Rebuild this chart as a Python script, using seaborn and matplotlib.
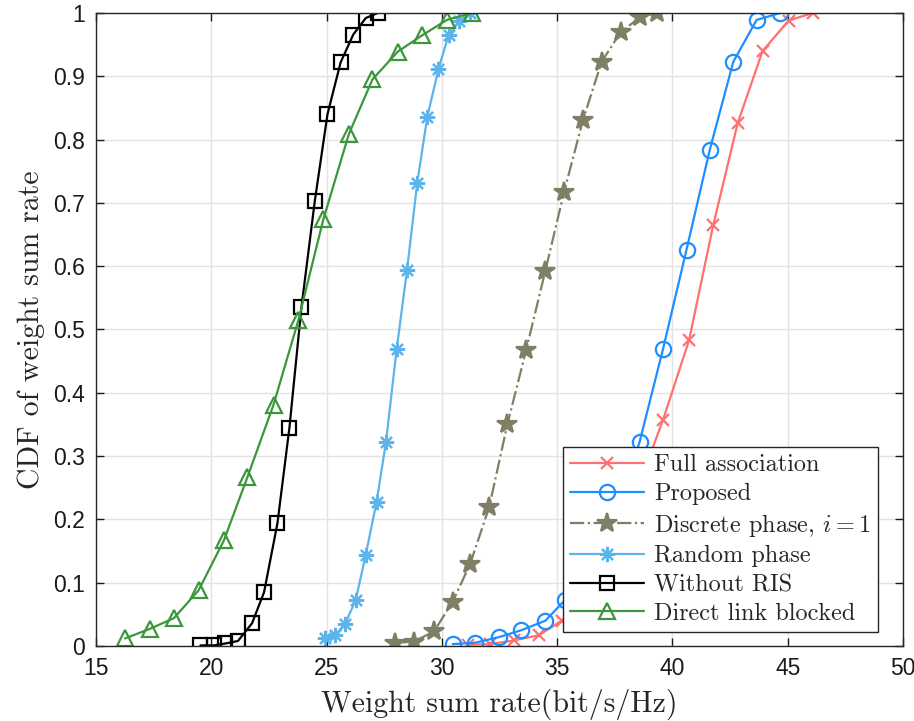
import matplotlib
matplotlib.use("Agg")
import matplotlib.pyplot as plt
import seaborn as sns

# values
full_x = [31.15, 32.1, 33.15, 34.2, 35.2, 36.3, 37.4, 38.5, 39.59, 40.72, 41.77, 42.83, 43.91, 45.04, 46.09]
full_y = [0.002, 0.003, 0.009, 0.017, 0.04, 0.09, 0.16, 0.25, 0.357, 0.483, 0.665, 0.826, 0.94, 0.988, 1.0]

prop_x = [30.47, 31.42, 32.47, 33.45, 34.49, 35.35, 36.5, 37.55, 38.58, 39.59, 40.61, 41.62, 42.64, 43.65, 44.67]
prop_y = [0.003, 0.005, 0.014, 0.025, 0.04, 0.073, 0.13, 0.21, 0.323, 0.469, 0.626, 0.784, 0.923, 0.989, 1.0]

disc_x = [27.98, 28.78, 29.66, 30.47, 31.23, 32.05, 32.84, 33.66, 34.49, 35.30, 36.12, 36.93, 37.76, 38.59, 39.32]
disc_y = [0.005, 0.007, 0.023, 0.07, 0.13, 0.219, 0.35, 0.468, 0.593, 0.717, 0.831, 0.923, 0.97, 0.993, 1.0]

rand_x = [24.93, 25.36, 25.80, 26.26, 26.70, 27.17, 27.58, 28.04, 28.49, 28.93, 29.37, 29.85, 30.29, 30.76, 31.2]
rand_y = [0.012, 0.017, 0.035, 0.072, 0.144, 0.228, 0.323, 0.469, 0.594, 0.731, 0.836, 0.911, 0.965, 0.987, 1.0]

noris_x = [19.53, 20.12, 20.61, 21.16, 21.77, 22.29, 22.87, 23.39, 23.91, 24.49, 25.04, 25.61, 26.16, 26.70, 27.22]
noris_y = [0.001, 0.001, 0.004, 0.008, 0.036, 0.085, 0.194, 0.345, 0.535, 0.703, 0.84, 0.922, 0.966, 0.992, 1.0]

block_x = [16.26, 17.33, 18.38, 19.45, 20.55, 21.57, 22.70, 23.78, 24.86, 25.97, 26.99, 28.09, 29.16, 30.22, 31.30]
block_y = [0.012, 0.027, 0.044, 0.088, 0.167, 0.267, 0.381, 0.515, 0.674, 0.809, 0.895, 0.939, 0.965, 0.989, 1.0]

names = ["Full association", "Proposed", "Discrete phase, $i=1$",
         "Random phase", "Without RIS", "Direct link blocked"]

sns.set_theme(style="ticks")
plt.rcParams["mathtext.fontset"] = "cm"
plt.rcParams["font.family"] = ["Liberation Sans", "DejaVu Sans"]

fig = plt.figure(figsize=(9.14, 7.21), dpi=100)
ax = fig.add_axes([0.105, 0.104, 0.883, 0.878])

series = [
    (full_x, full_y, "#FF7070", "x", "-", 9, "#FF7070"),
    (prop_x, prop_y, "#1E8FFF", "o", "-", 11, "none"),
    (disc_x, disc_y, "#7F7F65", "*", "-.", 15, "#7F7F65"),
    (rand_x, rand_y, "#5DB4EA", (8, 2, 0), "-", 11, "#5DB4EA"),
    (noris_x, noris_y, "#000000", "s", "-", 9.5, "none"),
    (block_x, block_y, "#3C963C", "^", "-", 12, "none"),
]

for (xs, ys, col, mk, ls, ms, mfc), name in zip(series, names):
    sns.lineplot(x=xs, y=ys, ax=ax, color=col, marker=mk, linestyle=ls,
                 markersize=ms, markerfacecolor=mfc, markeredgecolor=col,
                 markeredgewidth=1.6, linewidth=1.6, label=name,
                 sort=False, estimator=None)

ax.set_xlim(15, 50)
ax.set_ylim(0, 1)
ax.set_xticks(range(15, 51, 5))
ax.set_yticks([i / 10 for i in range(11)])
ax.set_yticklabels(["0"] + ["0.%d" % i for i in range(1, 10)] + ["1"])
ax.tick_params(direction="in", length=6, width=1, top=True, right=True,
               labelsize=16.5, colors="#1a1a1a", pad=8)
ax.grid(True, color="#E3E3E3", linewidth=1)
for sp in ax.spines.values():
    sp.set_color("#262626")
    sp.set_linewidth(1)

ax.set_xlabel("Weight sum rate(bit/s/Hz)", fontfamily="cmr10", fontsize=21.5,
              labelpad=6)
ax.set_ylabel("CDF of weight sum rate", fontfamily="cmr10", fontsize=21.5,
              labelpad=6)

leg = ax.legend(loc="lower right", prop={"family": "cmr10", "size": 17.5},
                frameon=True, fancybox=False, framealpha=1, edgecolor="#262626",
                handlelength=3.05, borderpad=0.3, labelspacing=0.27,
                handletextpad=0.4, borderaxespad=0,
                bbox_to_anchor=(878 / 914, 1 - 632 / 721),
                bbox_transform=fig.transFigure)
leg.get_frame().set_linewidth(1)

fig.savefig("out.png", dpi=100)
